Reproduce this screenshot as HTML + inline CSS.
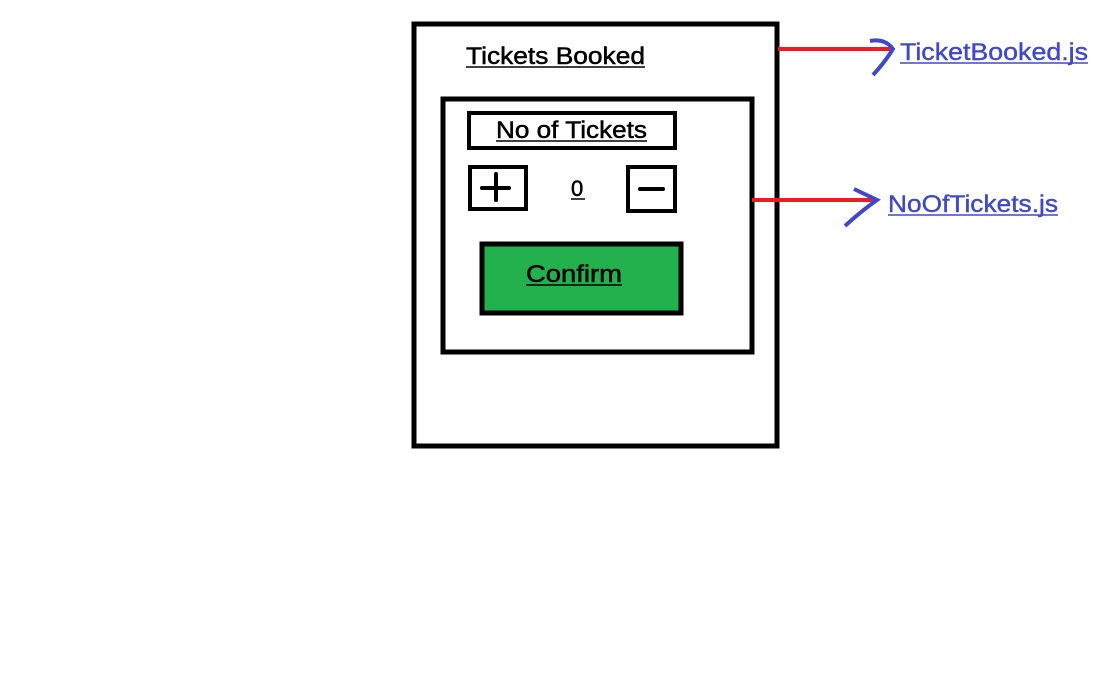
<!DOCTYPE html>
<html><head><style>body{margin:0;background:#fff}svg{display:block}</style></head><body>
<svg width="1099" height="686" viewBox="0 0 1099 686" xmlns="http://www.w3.org/2000/svg" font-family="Liberation Sans, sans-serif">
<rect x="414" y="24" width="363" height="422" fill="none" stroke="#000" stroke-width="5"/>
<rect x="443" y="99" width="309" height="253" fill="none" stroke="#000" stroke-width="5"/>
<rect x="469" y="113" width="206" height="35" fill="none" stroke="#000" stroke-width="4"/>
<rect x="470" y="167" width="56" height="42" fill="none" stroke="#000" stroke-width="4"/>
<rect x="628" y="167" width="47" height="44" fill="none" stroke="#000" stroke-width="4"/>
<rect x="482" y="244" width="199" height="69" fill="#22b14c" stroke="#000" stroke-width="5"/>
<path d="M482 188H509M496 174V200" stroke="#000" stroke-width="4" stroke-linecap="round"/>
<path d="M640 189H663" stroke="#000" stroke-width="4" stroke-linecap="round"/>
<g font-size="24" fill="#000" stroke="#000" stroke-width="0.5">
<text x="466" y="64" textLength="179" lengthAdjust="spacingAndGlyphs">Tickets Booked</text>
<text x="496" y="138" textLength="151" lengthAdjust="spacingAndGlyphs">No of Tickets</text>
<text x="526" y="282" textLength="96" lengthAdjust="spacingAndGlyphs">Confirm</text>
<text x="571" y="196" font-size="22">0</text>
</g>
<g stroke="#000" stroke-width="1.5">
<path d="M466 67H645M496 141H647M526 285H622M571 199H585"/>
</g>
<path d="M778 49H893M752 200H877" stroke="#ed1c24" stroke-width="4"/>
<path d="M870 41Q885 38 893 49Q885 62 873 75" fill="none" stroke="#3f48cc" stroke-width="4"/>
<path d="M854 189L877 200Q860 212 845 226" fill="none" stroke="#3f48cc" stroke-width="4"/>
<g fill="#3f48cc" font-size="24" stroke="#3f48cc" stroke-width="0.4">
<text x="900" y="60" textLength="188" lengthAdjust="spacingAndGlyphs">TicketBooked.js</text>
<text x="888" y="212" textLength="170" lengthAdjust="spacingAndGlyphs">NoOfTickets.js</text>
</g>
<path d="M900 63H1088M888 215H1058" stroke="#3f48cc" stroke-width="1.5"/>
</svg>
</body></html>
